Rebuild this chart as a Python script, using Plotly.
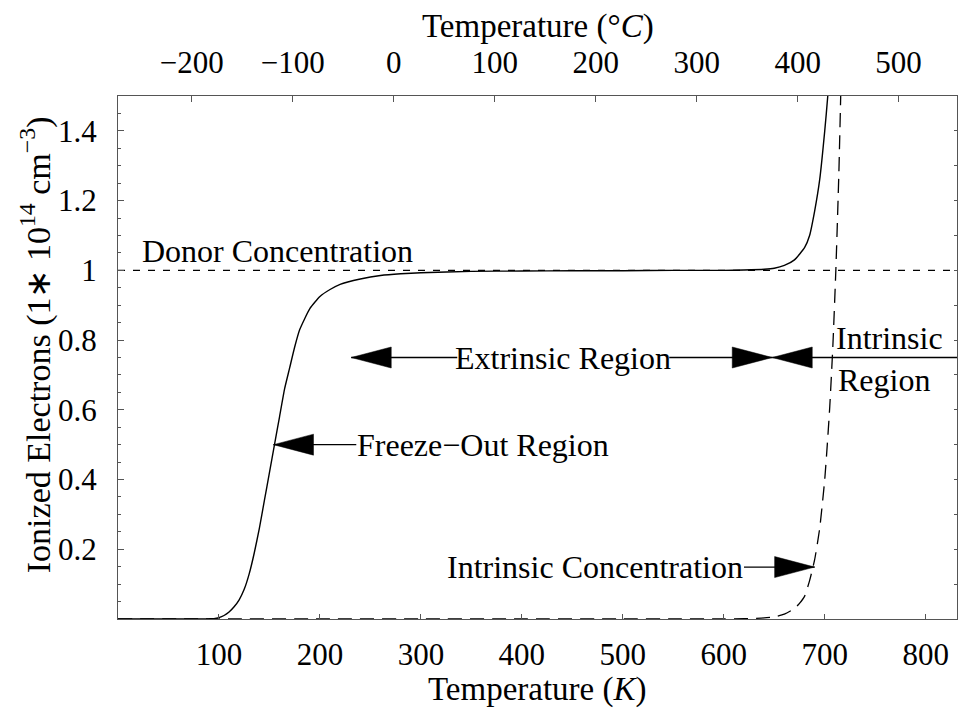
import plotly.graph_objects as go

# Temperature axis (K) and the Celsius offset for the top axis
T_MAX = 831
C_OFFSET = 273.15

# Ionized electron density (units of 1e14 cm^-3): total
T_total = [0, 80, 90, 95, 100, 105, 110, 115, 120, 125, 130, 135, 140, 145, 150,
           155, 160, 165, 170, 175, 180, 190, 200, 210, 220, 240, 260, 280, 300,
           350, 400, 450, 500, 550, 600, 620, 640, 650, 660, 670, 680, 685, 690,
           695, 700, 703, 705]
n_total = [0, 0, 0.0005, 0.001, 0.004, 0.01, 0.02, 0.035, 0.055, 0.085, 0.13, 0.19,
           0.26, 0.34, 0.42, 0.5, 0.58, 0.66, 0.72, 0.78, 0.83, 0.89, 0.925, 0.945,
           0.96, 0.975, 0.985, 0.99, 0.993, 0.997, 0.998, 0.999, 0.999, 1.0, 1.0,
           1.001, 1.003, 1.006, 1.014, 1.03, 1.065, 1.10, 1.17, 1.26, 1.40, 1.50, 1.60]

# Intrinsic carrier concentration (dashed curve)
T_intr = [0, 100, 200, 300, 400, 500, 550, 600, 620, 640, 650, 660, 670, 675, 680,
          685, 690, 695, 700, 703, 705, 708, 711, 714, 717]
n_intr = [0, 0, 0, 0, 0, 0, 0, 0.0001, 0.001, 0.003, 0.006, 0.014, 0.03, 0.045,
          0.065, 0.11, 0.17, 0.26, 0.40, 0.52, 0.61, 0.78, 1.0, 1.28, 1.65]

# Donor concentration level
N_DONOR = 1.0

# Tick values
K_TICKS = [100, 200, 300, 400, 500, 600, 700, 800]
C_TICKS = [-200, -100, 0, 100, 200, 300, 400, 500]
Y_TICKS = [0.2, 0.4, 0.6, 0.8, 1.0, 1.2, 1.4]
Y_TICKTEXT = ["0.2", "0.4", "0.6", "0.8", "1", "1.2", "1.4"]

# Annotated arrow tips (T in K, n)
FREEZE_TIP = (154, 0.5)
EXTR_LEFT_TIP = (231, 0.75)
EXTR_RIGHT_TIP = (648, 0.75)
INTR_CONC_TIP = (690, 0.149)

FONT = "Liberation Serif, Times New Roman, serif"
BLACK = "black"
FRAME = "#555555"

fig = go.Figure()

fig.add_trace(go.Scatter(x=[0, T_MAX], y=[N_DONOR, N_DONOR], mode="lines",
                         line=dict(color=BLACK, width=1.2, dash="7px,8px"),
                         hoverinfo="skip", showlegend=False))
fig.add_trace(go.Scatter(x=T_intr, y=n_intr, mode="lines",
                         line=dict(color=BLACK, width=1.3, dash="14px,8px",
                                   shape="spline", smoothing=0.5),
                         hoverinfo="skip", showlegend=False))
fig.add_trace(go.Scatter(x=T_total, y=n_total, mode="lines",
                         line=dict(color=BLACK, width=1.4, shape="spline", smoothing=0.5),
                         hoverinfo="skip", showlegend=False))
# empty trace so the top/right axes are bound to something
fig.add_trace(go.Scatter(x=[], y=[], xaxis="x2", yaxis="y2", showlegend=False))

HEAD_L = 40
HEAD_W = 10.5


def head(tip, direction):
    """Filled arrowhead; direction -1 points left, +1 points right."""
    s = -direction
    path = f"M0,0 L{s*HEAD_L},{HEAD_W} L{s*HEAD_L},{-HEAD_W} Z"
    fig.add_shape(type="path", xref="x", yref="y", xsizemode="pixel",
                  ysizemode="pixel", xanchor=tip[0], yanchor=tip[1], path=path,
                  fillcolor=BLACK, line=dict(color=BLACK, width=0.5))


def hline(x0, x1, y):
    fig.add_shape(type="line", xref="x", yref="y", x0=x0, x1=x1, y0=y, y1=y,
                  line=dict(color=BLACK, width=1.3))


def label(text, x, y, xanchor="center", xref="x", yref="y", size=32, angle=0):
    fig.add_annotation(text=text, x=x, y=y, xref=xref, yref=yref, showarrow=False,
                       xanchor=xanchor, yanchor="middle", textangle=angle,
                       font=dict(family=FONT, size=size, color=BLACK))


# Freeze-out region
hline(FREEZE_TIP[0], 236, FREEZE_TIP[1])
head(FREEZE_TIP, -1)
label("Freeze\u2212Out Region", 235, FREEZE_TIP[1], xanchor="left")

# Extrinsic region
hline(EXTR_LEFT_TIP[0], 336, EXTR_LEFT_TIP[1])
head(EXTR_LEFT_TIP, -1)
label("Extrinsic Region", 441, 0.75)
hline(546, EXTR_RIGHT_TIP[0], EXTR_RIGHT_TIP[1])
head(EXTR_RIGHT_TIP, +1)

# Intrinsic region
head(EXTR_RIGHT_TIP, -1)
hline(EXTR_RIGHT_TIP[0], T_MAX, EXTR_RIGHT_TIP[1])
label("Intrinsic", 764, 0.805)
label("Region", 759, 0.685)

# Intrinsic concentration
hline(620, INTR_CONC_TIP[0], INTR_CONC_TIP[1])
head(INTR_CONC_TIP, +1)
label("Intrinsic Concentration", 621, INTR_CONC_TIP[1], xanchor="right")

# Donor concentration
label("Donor Concentration", 22, 1.056, xanchor="left")

# Axis titles
label("Temperature (<i>K</i>)", 0.5, -0.135, xref="paper", yref="paper", size=33)
label("Temperature (\u00b0<i>C</i>)", 0.5, 1.132, xref="paper", yref="paper", size=33)
label("Ionized Electrons (1\u2217 10<sup>14</sup> cm<sup>\u22123</sup>)", -0.098, 0.525,
      xref="paper", yref="paper", angle=-90, size=34)

tickfont = dict(family=FONT, size=31, color=BLACK)
axis_common = dict(showgrid=False, zeroline=False, showline=True, linecolor=FRAME,
                   linewidth=1.3, ticks="inside", tickcolor=FRAME, tickwidth=1.2,
                   tickfont=tickfont)

fig.update_layout(
    width=959, height=711,
    margin=dict(l=118, r=2, t=96, b=92),
    plot_bgcolor="white", paper_bgcolor="white",
    showlegend=False,
    xaxis=dict(range=[0, T_MAX], tickvals=K_TICKS, ticklen=5,
               ticklabelstandoff=8, **axis_common),
    xaxis2=dict(range=[-C_OFFSET, T_MAX - C_OFFSET], overlaying="x", side="top",
                tickvals=C_TICKS, ticklen=6, ticklabelstandoff=9, **axis_common),
    yaxis=dict(range=[0, 1.5], tickvals=Y_TICKS, ticktext=Y_TICKTEXT, ticklen=6,
               ticklabelstandoff=14,
               minor=dict(dtick=0.05, ticks="inside", ticklen=3, tickcolor=FRAME),
               **axis_common),
    yaxis2=dict(range=[0, 1.5], overlaying="y", side="right", dtick=0.1, ticklen=3,
                showticklabels=False, **axis_common),
)

fig.write_html("out.html")
